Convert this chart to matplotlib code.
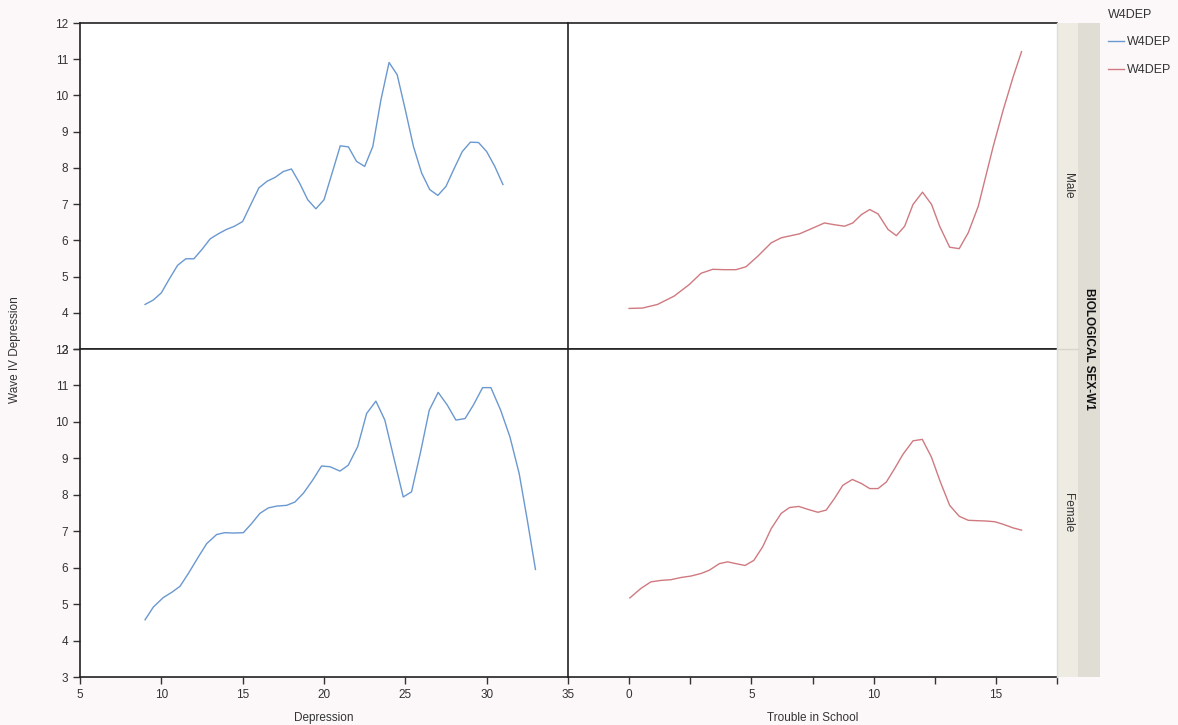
import matplotlib
matplotlib.use("Agg")
import matplotlib.pyplot as plt
from matplotlib.patches import Rectangle
from matplotlib.lines import Line2D

# ---------------- data ----------------
male_dep_x = [9.0, 9.5, 10.0, 10.5, 11.0, 11.5, 12.0, 12.5, 13.0, 13.5, 14.0, 14.5, 15.0,
              15.5, 16.0, 16.5, 17.0, 17.5, 18.0, 18.5, 19.0, 19.5, 20.0, 20.5, 21.0, 21.5,
              22.0, 22.5, 23.0, 23.5, 24.0, 24.5, 25.0, 25.5, 26.0, 26.5, 27.0, 27.5, 28.0,
              28.5, 29.0, 29.5, 30.0, 30.5, 31.0]
male_dep_y = [4.23, 4.35, 4.55, 4.94, 5.31, 5.49, 5.49, 5.75, 6.04, 6.18, 6.30, 6.39, 6.52,
              6.99, 7.45, 7.63, 7.74, 7.90, 7.97, 7.58, 7.12, 6.87, 7.12, 7.86, 8.61, 8.58,
              8.18, 8.04, 8.59, 9.88, 10.91, 10.57, 9.60, 8.59, 7.86, 7.40, 7.24, 7.49, 7.98,
              8.45, 8.71, 8.70, 8.45, 8.04, 7.54]

female_dep_x = [9.0, 9.51, 10.12, 10.63, 11.15, 11.66, 12.27, 12.79, 13.40, 13.91, 14.42,
                15.04, 15.55, 16.06, 16.58, 17.09, 17.70, 18.21, 18.73, 19.30, 19.85, 20.37,
                20.98, 21.49, 22.07, 22.62, 23.19, 23.74, 24.30, 24.87, 25.38, 25.94, 26.47,
                27.02, 27.58, 28.11, 28.67, 29.18, 29.75, 30.26, 30.86, 31.43, 32.0, 32.5, 33.0]
female_dep_y = [4.57, 4.92, 5.18, 5.32, 5.49, 5.84, 6.29, 6.66, 6.91, 6.96, 6.95,
                6.96, 7.21, 7.49, 7.64, 7.69, 7.71, 7.80, 8.04, 8.40, 8.79, 8.77,
                8.65, 8.81, 9.32, 10.23, 10.57, 10.05, 9.00, 7.94, 8.08, 9.18, 10.32,
                10.81, 10.46, 10.05, 10.09, 10.46, 10.94, 10.94, 10.32, 9.59, 8.58, 7.30, 5.95]

male_sch_x = [0.0, 0.55, 1.16, 1.84, 2.46, 2.94, 3.42, 3.89, 4.37, 4.78, 5.26, 5.81, 6.22,
              6.97, 7.45, 7.99, 8.40, 8.81, 9.15, 9.50, 9.84, 10.18, 10.59, 10.93, 11.27,
              11.61, 12.0, 12.37, 12.70, 13.11, 13.50, 13.87, 14.28, 14.62, 14.89, 15.30,
              15.71, 16.05]
male_sch_y = [4.12, 4.13, 4.23, 4.46, 4.78, 5.09, 5.20, 5.19, 5.19, 5.27, 5.56, 5.93, 6.07,
              6.18, 6.32, 6.48, 6.43, 6.39, 6.48, 6.71, 6.85, 6.73, 6.30, 6.13, 6.39,
              6.99, 7.33, 6.99, 6.39, 5.81, 5.77, 6.21, 6.94, 7.86, 8.59, 9.60,
              10.52, 11.21]

female_sch_x = [0.03, 0.48, 0.89, 1.30, 1.71, 2.12, 2.53, 2.94, 3.28, 3.69, 4.03, 4.37, 4.74,
                5.10, 5.46, 5.81, 6.22, 6.56, 6.94, 7.31, 7.72, 8.06, 8.40, 8.74, 9.13, 9.50,
                9.84, 10.18, 10.52, 10.86, 11.20, 11.61, 11.99, 12.36, 12.73, 13.11, 13.50,
                13.87, 14.21, 14.59, 14.96, 15.30, 15.71, 16.05]
female_sch_y = [5.17, 5.43, 5.61, 5.65, 5.67, 5.73, 5.77, 5.84, 5.93, 6.11, 6.16, 6.11, 6.06,
                6.20, 6.57, 7.07, 7.49, 7.65, 7.68, 7.60, 7.52, 7.58, 7.90, 8.26, 8.42, 8.31,
                8.17, 8.17, 8.35, 8.72, 9.11, 9.48, 9.52, 9.04, 8.35, 7.71, 7.41,
                7.30, 7.29, 7.28, 7.26, 7.19, 7.09, 7.03]

y_ticks = [3, 4, 5, 6, 7, 8, 9, 10, 11, 12]
dep_ticks = [5, 10, 15, 20, 25, 30, 35]
sch_ticks = [0, 5, 10, 15]
sch_minor = [2.5, 7.5, 12.5, 17.5]
row_labels = ["Male", "Female"]
legend_title = "W4DEP"
legend_labels = ["W4DEP", "W4DEP"]

BLUE = "#6a98d0"
RED = "#cf7a80"
TXT = "#333333"
AXC = "#222222"

W, H = 1178, 725
plt.rcParams["font.family"] = ["Liberation Sans", "DejaVu Sans"]
fig = plt.figure(figsize=(W / 100, H / 100), dpi=100, facecolor="#fcf8fa")


def fx(px):
    return px / W


def fy(py):
    return 1 - py / H


def box(x0, y0, x1, y1):
    return [fx(x0), fy(y1), fx(x1) - fx(x0), fy(y0) - fy(y1)]


L0, LM, R1 = 80, 568, 1057
T0, TM, B1 = 23, 349, 677

ax_tl = fig.add_axes(box(L0, T0, LM, TM))
ax_tr = fig.add_axes(box(LM, T0, R1, TM))
ax_bl = fig.add_axes(box(L0, TM, LM, B1))
ax_br = fig.add_axes(box(LM, TM, R1, B1))

ax_tl.plot(male_dep_x, male_dep_y, color=BLUE, lw=1.0)
ax_bl.plot(female_dep_x, female_dep_y, color=BLUE, lw=1.0)
ax_tr.plot(male_sch_x, male_sch_y, color=RED, lw=1.0)
ax_br.plot(female_sch_x, female_sch_y, color=RED, lw=1.0)

for ax in (ax_tl, ax_bl):
    ax.set_xlim(5, 35)
for ax in (ax_tr, ax_br):
    ax.set_xlim(-2.5, 17.5)

for ax in (ax_tl, ax_tr, ax_bl, ax_br):
    ax.set_ylim(3, 12)
    ax.set_facecolor("white")
    for s in ax.spines.values():
        s.set_color(AXC)
        s.set_linewidth(1.2)
    ax.spines["right"].set_visible(False)
    ax.tick_params(colors=TXT, labelsize=8.5, length=5, width=1, direction="out",
                   labelcolor=TXT)

# y ticks only on left column
for ax in (ax_tl, ax_bl):
    ax.set_yticks(y_ticks)
for ax in (ax_tr, ax_br):
    ax.set_yticks([])

# top row: no x ticks (bottom spine acts as divider line)
for ax in (ax_tl, ax_tr):
    ax.set_xticks([])

ax_bl.set_xticks(dep_ticks)
ax_br.set_xticks(sch_ticks)
ax_br.set_xticks(sch_minor, minor=True)
ax_br.tick_params(axis="x", which="minor", length=5, width=1, color=TXT)

ax_bl.set_xlabel("Depression", fontsize=8.5, color=TXT, labelpad=8)
ax_br.set_xlabel("Trouble in School", fontsize=8.5, color=TXT, labelpad=8)
fig.text(fx(15), fy(350), "Wave IV Depression", rotation=90, ha="center", va="center",
         fontsize=8.5, color=TXT)

# strips
fig.add_artist(Rectangle((fx(R1), fy(B1)), fx(1078) - fx(R1), fy(T0) - fy(B1),
                         transform=fig.transFigure, facecolor="#eeebe3", edgecolor="none"))
fig.add_artist(Rectangle((fx(1078), fy(B1)), fx(1100) - fx(1078), fy(T0) - fy(B1),
                         transform=fig.transFigure, facecolor="#e0ddd5", edgecolor="none"))
fig.add_artist(Line2D([fx(R1), fx(1078)], [fy(TM), fy(TM)], transform=fig.transFigure,
                      color="#d8d5cd", lw=1))
fig.add_artist(Line2D([fx(R1), fx(R1)], [fy(B1), fy(T0)], transform=fig.transFigure,
                      color="#dcdcdc", lw=1))
fig.text(fx(1068), fy((T0 + TM) / 2), row_labels[0], rotation=-90, ha="center",
         va="center", fontsize=8.5, color=TXT)
fig.text(fx(1068), fy((TM + B1) / 2), row_labels[1], rotation=-90, ha="center",
         va="center", fontsize=8.5, color=TXT)
fig.text(fx(1089), fy(349), "BIOLOGICAL SEX-W1", rotation=-90, ha="center",
         va="center", fontsize=8.5, color="#111111", fontweight="bold")

# legend
h1 = Line2D([], [], color=BLUE, lw=1.0)
h2 = Line2D([], [], color=RED, lw=1.0)
leg = fig.legend([h1, h2], legend_labels, title=legend_title, loc="upper left",
                 bbox_to_anchor=(fx(1099), fy(0)), frameon=False, fontsize=9,
                 title_fontsize=9, handlelength=1.3, handletextpad=0.2,
                 labelspacing=1.25, alignment="left", borderpad=0.2)
for t in leg.get_texts():
    t.set_color(TXT)
leg.get_title().set_color(TXT)

fig.savefig("out.png", dpi=100, facecolor=fig.get_facecolor())
